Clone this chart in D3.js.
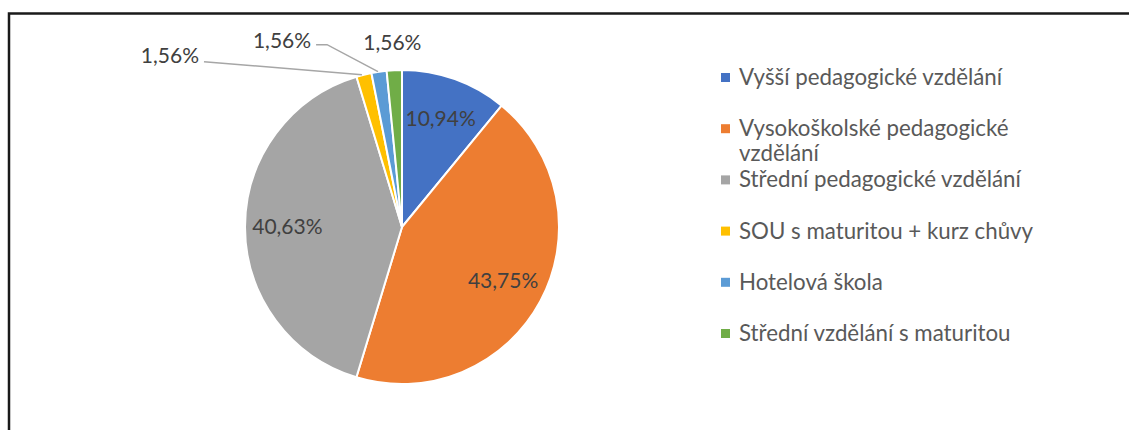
<!DOCTYPE html>
<html>
<head>
<meta charset="utf-8">
<script src="https://cdn.jsdelivr.net/npm/d3@7"></script>
<style>
  body { margin: 0; background: #fff; }
  svg { display: block; font-family: Lato, "Noto Sans", sans-serif; }
</style>
</head>
<body>
<div id="chart-container" style="width:1129px;height:430px"></div>
<script>
const chartContainer = document.getElementById("chart-container");

const categories = [
  "Vyšší pedagogické vzdělání",
  "Vysokoškolské pedagogické vzdělání",
  "Střední pedagogické vzdělání",
  "SOU s maturitou + kurz chůvy",
  "Hotelová škola",
  "Střední vzdělání s maturitou",
];
const values = [10.94, 43.75, 40.63, 1.56, 1.56, 1.56];
const valueLabels = ["10,94%", "43,75%", "40,63%", "1,56%", "1,56%", "1,56%"];
const colors = ["#4472C4", "#ED7D31", "#A5A5A5", "#FFC000", "#5B9BD5", "#70AD47"];

// label placement: inside slices or pulled outside with an offset from the outer edge
const labelLayout = [
  { inside: true },
  { inside: true },
  { inside: true },
  { inside: false, dx: -194, dy: -19, leader: "straight" },
  { inside: false, dx: -97, dy: -31, leader: "elbow" },
  { inside: false, dx: -2, dy: -28, leader: "none" },
];

const width = 1129;
const height = 430;
const cx = 402;
const cy = 227;
const radius = 157;

const svg = d3
  .select(chartContainer)
  .append("svg")
  .attr("width", width)
  .attr("height", height);

// chart frame (cropped on the right and bottom)
svg
  .append("rect")
  .attr("x", 9)
  .attr("y", 13.5)
  .attr("width", 1200)
  .attr("height", 600)
  .attr("fill", "none")
  .attr("stroke", "#1a1a1a")
  .attr("stroke-width", 2.5);

const pie = d3.pie().sort(null).value((d) => d);
const arcs = pie(values);

const arc = d3.arc().innerRadius(0).outerRadius(radius);
const labelArc = d3.arc().innerRadius(radius * 0.73).outerRadius(radius * 0.73);

const graph = svg.append("g").attr("transform", `translate(${cx}, ${cy})`);

graph
  .selectAll("path")
  .data(arcs)
  .enter()
  .append("path")
  .attr("d", arc)
  .attr("fill", (d, i) => colors[i])
  .attr("stroke", "#fff")
  .attr("stroke-width", 2);

const labelSize = 21;
const legendSize = 22.3;

arcs.forEach((d, i) => {
  const lay = labelLayout[i];
  const mid = (d.startAngle + d.endAngle) / 2;
  if (lay.inside) {
    const [x, y] = labelArc.centroid(d);
    graph
      .append("text")
      .attr("x", x)
      .attr("y", y)
      .attr("dy", "0.35em")
      .attr("text-anchor", "middle")
      .attr("fill", "#404040")
      .style("font-size", labelSize + "px")
      .text(valueLabels[i]);
  } else {
    const ox = radius * Math.sin(mid);
    const oy = -radius * Math.cos(mid);
    const lx = ox + lay.dx;
    const ly = oy + lay.dy;
    const t = graph
      .append("text")
      .attr("x", lx)
      .attr("y", ly)
      .attr("dy", "0.35em")
      .attr("text-anchor", "middle")
      .attr("fill", "#404040")
      .style("font-size", labelSize + "px")
      .text(valueLabels[i]);
    const w = t.node().getComputedTextLength();
    let pts = null;
    if (lay.leader === "straight") {
      pts = [[lx + w / 2 + 5, ly + 6], [ox - 2, oy]];
    } else if (lay.leader === "elbow") {
      pts = [[lx + w / 2 + 5, ly + 4], [lx + w / 2 + 16, ly + 4], [ox - 1, oy]];
    }
    if (pts) {
      graph
        .append("path")
        .attr("d", d3.line()(pts))
        .attr("fill", "none")
        .attr("stroke", "#A6A6A6")
        .attr("stroke-width", 1.5);
    }
  }
});

// legend
const legend = svg.append("g");
const legendX = 721;
const legendY0 = 85;
const legendStep = 51.2;
const maxTextWidth = 320;

categories.forEach((name, i) => {
  const by = legendY0 + i * legendStep;
  legend
    .append("rect")
    .attr("x", legendX)
    .attr("y", by - 12)
    .attr("width", 9)
    .attr("height", 9)
    .attr("fill", colors[i]);
  const text = legend
    .append("text")
    .attr("x", legendX + 18)
    .attr("y", by)
    .attr("fill", "#595959")
    .style("font-size", legendSize + "px");
  // simple word wrap
  const words = name.split(" ");
  let line = [];
  let tspan = text.append("tspan").attr("x", legendX + 18).attr("y", by);
  let lineNo = 0;
  words.forEach((word) => {
    line.push(word);
    tspan.text(line.join(" "));
    if (tspan.node().getComputedTextLength() > maxTextWidth && line.length > 1) {
      line.pop();
      tspan.text(line.join(" "));
      line = [word];
      lineNo++;
      tspan = text
        .append("tspan")
        .attr("x", legendX + 18)
        .attr("y", by + lineNo * 25)
        .text(word);
    }
  });
});
</script>
</body>
</html>
